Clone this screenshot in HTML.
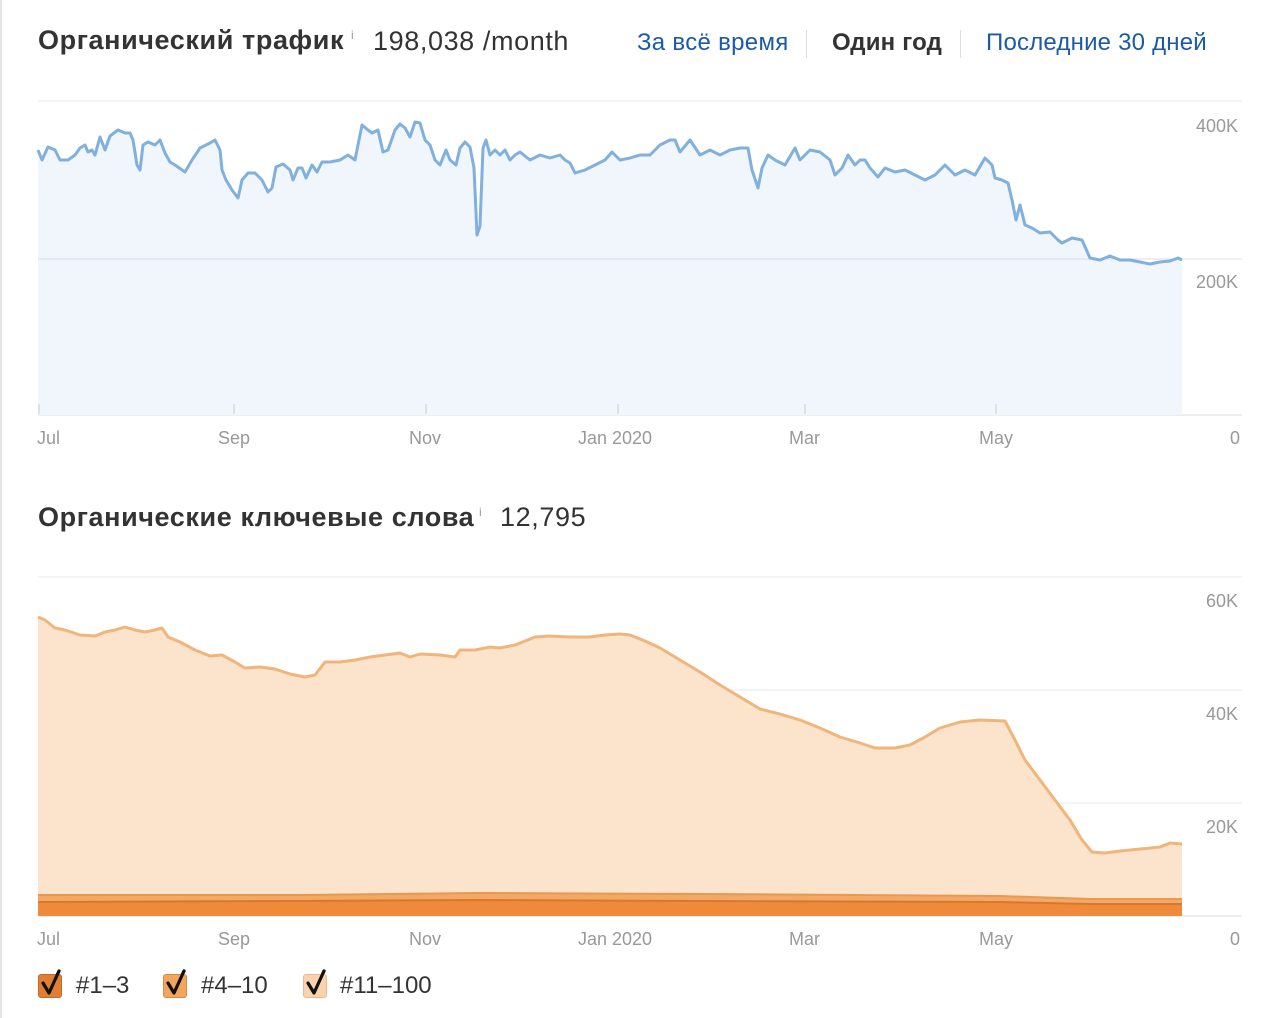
<!DOCTYPE html>
<html><head><meta charset="utf-8"><style>
body{margin:0;background:#fff;width:1280px;height:1018px;overflow:hidden;font-family:"Liberation Sans","DejaVu Sans",sans-serif;position:relative}
.t{position:absolute;white-space:nowrap}
.ax{color:#999;font-size:18px}
.cb{position:absolute;width:22px;height:22px;border-radius:3px;top:974px}
.ck{position:absolute;top:966px}
</style></head><body>
<div style="position:absolute;left:0;top:0;width:2px;height:1018px;background:#e6e6e6"></div>
<div class="t" style="left:38px;top:25px;font-size:27px;font-weight:bold;color:#333;letter-spacing:0.6px">Органический трафик</div>
<div class="t" style="left:351px;top:28px;font-size:12px;color:#999">i</div>
<div class="t" style="left:373px;top:26px;font-size:27px;color:#333;letter-spacing:0.6px">198,038 /month</div>
<div class="t" style="left:637px;top:29px;font-size:24px;color:#1a5aa6;letter-spacing:0.3px">За всё время</div>
<div style="position:absolute;left:806px;top:30px;width:1px;height:28px;background:#ddd"></div>
<div class="t" style="left:832px;top:29px;font-size:24px;font-weight:bold;color:#333;letter-spacing:0.2px">Один год</div>
<div style="position:absolute;left:960px;top:30px;width:1px;height:28px;background:#ddd"></div>
<div class="t" style="left:986px;top:29px;font-size:24px;color:#1a5aa6;letter-spacing:0.2px">Последние 30 дней</div>

<svg style="position:absolute;left:0;top:0" width="1280" height="1018">
<line x1="38" y1="101" x2="1242" y2="101" stroke="#e8e8e8"/>
<line x1="38" y1="259" x2="1242" y2="259" stroke="#e0e4ea"/>
<line x1="38" y1="415" x2="1242" y2="415" stroke="#ddd"/>
<polyline fill="#f1f6fd" stroke="none" points="38,415 38,150 42,160 48,147 55,150 60,160 68,160 75,155 80,148 85,145 88,152 92,150 95,155 100,137 105,150 110,136 118,130 125,133 130,133 133,140 137,165 140,170 143,145 148,142 155,145 160,140 165,153 170,162 175,165 185,172 192,160 200,148 210,143 215,140 220,150 222,170 226,180 232,190 238,198 242,180 248,173 255,173 262,180 268,192 272,188 276,167 283,164 290,170 293,180 298,168 302,168 306,178 312,165 317,172 322,162 330,162 340,160 348,155 355,160 362,125 368,130 372,133 378,130 383,152 388,150 395,130 400,124 405,128 410,137 415,122 420,123 425,140 430,145 435,160 440,165 446,150 450,160 456,165 460,148 465,142 470,147 474,168 477,235 480,226 483,148 486,140 490,155 495,150 500,155 505,150 510,160 515,155 520,152 530,160 540,155 550,158 560,155 565,160 570,163 575,173 585,170 595,165 605,160 612,152 620,160 630,158 640,155 650,155 660,145 670,140 675,140 680,152 690,140 700,155 710,150 720,155 730,150 740,148 748,148 752,170 758,188 762,168 768,155 775,160 785,165 795,148 800,160 810,150 820,152 830,160 835,175 842,168 848,155 855,165 860,160 865,160 870,168 878,177 885,168 895,172 905,170 915,175 925,180 935,175 945,165 955,175 965,170 975,175 985,158 992,165 995,178 1002,180 1008,183 1012,200 1016,220 1020,205 1025,225 1032,228 1040,233 1050,232 1058,240 1062,243 1072,238 1082,240 1090,258 1100,260 1110,256 1120,260 1130,260 1140,262 1150,264 1160,262 1170,261 1178,258 1182,260 1182,415"/>
<g stroke="#ccc"><line x1="39" y1="404" x2="39" y2="414"/><line x1="234" y1="404" x2="234" y2="414"/><line x1="426" y1="404" x2="426" y2="414"/><line x1="618" y1="404" x2="618" y2="414"/><line x1="805" y1="404" x2="805" y2="414"/><line x1="996" y1="404" x2="996" y2="414"/></g>
<line x1="38" y1="259" x2="1182" y2="259" stroke="#d8dde6" stroke-width="1"/>
<polyline fill="none" stroke="#7fb0de" stroke-width="3" stroke-linejoin="round" points="38,150 42,160 48,147 55,150 60,160 68,160 75,155 80,148 85,145 88,152 92,150 95,155 100,137 105,150 110,136 118,130 125,133 130,133 133,140 137,165 140,170 143,145 148,142 155,145 160,140 165,153 170,162 175,165 185,172 192,160 200,148 210,143 215,140 220,150 222,170 226,180 232,190 238,198 242,180 248,173 255,173 262,180 268,192 272,188 276,167 283,164 290,170 293,180 298,168 302,168 306,178 312,165 317,172 322,162 330,162 340,160 348,155 355,160 362,125 368,130 372,133 378,130 383,152 388,150 395,130 400,124 405,128 410,137 415,122 420,123 425,140 430,145 435,160 440,165 446,150 450,160 456,165 460,148 465,142 470,147 474,168 477,235 480,226 483,148 486,140 490,155 495,150 500,155 505,150 510,160 515,155 520,152 530,160 540,155 550,158 560,155 565,160 570,163 575,173 585,170 595,165 605,160 612,152 620,160 630,158 640,155 650,155 660,145 670,140 675,140 680,152 690,140 700,155 710,150 720,155 730,150 740,148 748,148 752,170 758,188 762,168 768,155 775,160 785,165 795,148 800,160 810,150 820,152 830,160 835,175 842,168 848,155 855,165 860,160 865,160 870,168 878,177 885,168 895,172 905,170 915,175 925,180 935,175 945,165 955,175 965,170 975,175 985,158 992,165 995,178 1002,180 1008,183 1012,200 1016,220 1020,205 1025,225 1032,228 1040,233 1050,232 1058,240 1062,243 1072,238 1082,240 1090,258 1100,260 1110,256 1120,260 1130,260 1140,262 1150,264 1160,262 1170,261 1178,258 1182,260"/>

<line x1="38" y1="577" x2="1242" y2="577" stroke="#e8e8e8"/>
<line x1="38" y1="690" x2="1242" y2="690" stroke="#e8e8e8"/>
<line x1="38" y1="803" x2="1242" y2="803" stroke="#e8e8e8"/>
<line x1="38" y1="916" x2="1242" y2="916" stroke="#ddd"/>
<polygon fill="#fbe3cc" stroke="none" points="38,916 38,617 45,620 55,628 65,630 80,635 95,636 105,632 115,630 125,627 135,630 145,632 155,630 162,628 168,637 180,642 195,650 210,656 222,655 235,662 245,668 260,667 275,669 290,674 305,677 315,675 325,662 340,662 355,660 370,657 385,655 400,653 410,657 420,654 440,655 455,657 460,650 475,650 490,647 500,648 515,645 525,641 535,637 550,636 570,637 590,637 605,635 620,634 630,635 645,641 660,648 680,660 700,672 720,685 740,697 760,709 780,714 800,720 820,728 840,737 860,743 875,748 895,748 910,745 925,737 940,728 960,722 980,720 1005,721 1015,740 1025,760 1040,780 1055,800 1070,820 1082,840 1092,852 1105,853 1120,851 1140,849 1160,847 1170,843 1182,844 1182,916"/>
<polyline fill="none" stroke="#f0b57a" stroke-width="3" stroke-linejoin="round" points="38,617 45,620 55,628 65,630 80,635 95,636 105,632 115,630 125,627 135,630 145,632 155,630 162,628 168,637 180,642 195,650 210,656 222,655 235,662 245,668 260,667 275,669 290,674 305,677 315,675 325,662 340,662 355,660 370,657 385,655 400,653 410,657 420,654 440,655 455,657 460,650 475,650 490,647 500,648 515,645 525,641 535,637 550,636 570,637 590,637 605,635 620,634 630,635 645,641 660,648 680,660 700,672 720,685 740,697 760,709 780,714 800,720 820,728 840,737 860,743 875,748 895,748 910,745 925,737 940,728 960,722 980,720 1005,721 1015,740 1025,760 1040,780 1055,800 1070,820 1082,840 1092,852 1105,853 1120,851 1140,849 1160,847 1170,843 1182,844"/>
<polygon fill="#f2a968" points="38,916 38,895 300,895 480,893 700,894 1000,896 1090,899 1182,899 1182,916"/>
<polyline fill="none" stroke="#e8984f" stroke-width="2" points="38,895 300,895 480,893 700,894 1000,896 1090,899 1182,899"/>
<polygon fill="#ee8a3a" points="38,916 38,902 300,901 480,900 700,901 1000,902 1090,904 1182,904 1182,916"/>
<polyline fill="none" stroke="#d9772c" stroke-width="2" points="38,902 300,901 480,900 700,901 1000,902 1090,904 1182,904"/>
<g stroke="#111" stroke-width="3.2" fill="none" stroke-linecap="round" stroke-linejoin="round">
<polyline points="43,983 49,993 59,971"/>
<polyline points="168,983 174,993 184,971"/>
<polyline points="308,983 314,993 324,971"/>
</g>
</svg>

<div class="t ax" style="left:37px;top:428px">Jul</div>
<div class="t ax" style="left:218px;top:428px">Sep</div>
<div class="t ax" style="left:409px;top:428px">Nov</div>
<div class="t ax" style="left:578px;top:428px">Jan 2020</div>
<div class="t ax" style="left:789px;top:428px">Mar</div>
<div class="t ax" style="left:979px;top:428px">May</div>
<div class="t ax" style="left:1196px;top:116px">400K</div>
<div class="t ax" style="left:1196px;top:272px">200K</div>
<div class="t ax" style="left:1230px;top:428px">0</div>

<div class="t" style="left:38px;top:502px;font-size:27px;font-weight:bold;color:#333;letter-spacing:0.6px">Органические ключевые слова</div>
<div class="t" style="left:479px;top:505px;font-size:12px;color:#999">i</div>
<div class="t" style="left:500px;top:502px;font-size:27px;color:#333;letter-spacing:0.6px">12,795</div>

<div class="t ax" style="left:1206px;top:591px">60K</div>
<div class="t ax" style="left:1206px;top:704px">40K</div>
<div class="t ax" style="left:1206px;top:817px">20K</div>
<div class="t ax" style="left:37px;top:929px">Jul</div>
<div class="t ax" style="left:218px;top:929px">Sep</div>
<div class="t ax" style="left:409px;top:929px">Nov</div>
<div class="t ax" style="left:578px;top:929px">Jan 2020</div>
<div class="t ax" style="left:789px;top:929px">Mar</div>
<div class="t ax" style="left:979px;top:929px">May</div>
<div class="t ax" style="left:1230px;top:929px">0</div>

<div class="cb" style="left:38px;background:#e07f34;border:1px solid #c06a28"></div>
<div class="t" style="left:76px;top:972px;font-size:24px;color:#333">#1–3</div>
<div class="cb" style="left:163px;background:#f2a55c;border:1px solid #d88a42"></div>
<div class="t" style="left:201px;top:972px;font-size:24px;color:#333">#4–10</div>
<div class="cb" style="left:303px;background:#f9d3ad;border:1px solid #e8b98c"></div>
<div class="t" style="left:340px;top:972px;font-size:24px;color:#333">#11–100</div>
<svg style="position:absolute;left:0;top:0" width="400" height="1018">
<g stroke="#111" stroke-width="3.2" fill="none" stroke-linecap="round" stroke-linejoin="round">
<polyline points="43,983 49,993 59,971"/>
<polyline points="168,983 174,993 184,971"/>
<polyline points="308,983 314,993 324,971"/>
</g></svg>
</body></html>
